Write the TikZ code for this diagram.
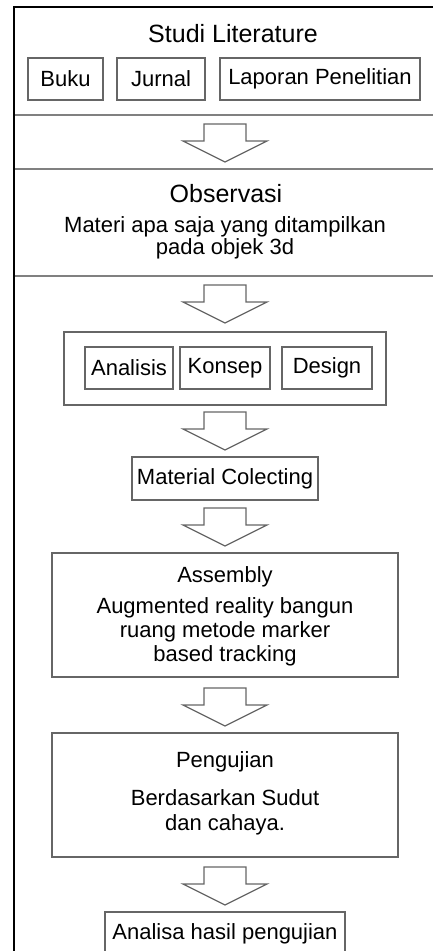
\documentclass[tikz,border=0pt]{standalone}
\usepackage{fontspec}
\setmainfont{Liberation Sans}
\usepackage{tikz}

\definecolor{boxgray}{gray}{0.4}
\definecolor{linegray}{gray}{0.5}

\tikzset{
 box/.style={draw=boxgray, line width=1.2pt, inner sep=0pt},
 txt/.style={font=\fontsize{22}{#1}\selectfont},
 txt/.default=24,
 bigtxt/.style={font=\fontsize{25}{28}\selectfont},
 flow/.style={draw=boxgray, line width=1.2pt, fill=white}
}

\newcommand{\flowarrow}[1]{%
 \draw[flow] (204,#1) -- (204,#1+17) -- (183,#1+17) -- (225,#1+38)
  -- (267,#1+17) -- (246,#1+17) -- (246,#1) -- cycle;}

\begin{document}
\begin{tikzpicture}[x=1pt,y=-1pt]
 \useasboundingbox (0,0) rectangle (433,951);
 \draw[line width=2.5pt] (14,960) -- (14,7) -- (440,7);
 \draw[linegray, line width=1.2pt] (15,115) -- (433,115);
 \draw[linegray, line width=1.2pt] (15,169) -- (433,169);
 \draw[linegray, line width=1.2pt] (15,276) -- (433,276);
 % studi literature
 \node[bigtxt, anchor=base] (studi) at (233,42) {Studi Literature};
 \node[box, txt, minimum width=75pt, minimum height=42pt] (buku) at (65.5,79) {Buku};
 \node[box, txt, minimum width=88pt, minimum height=42pt] (jurnal) at (161,79) {Jurnal};
 \node[box, txt, minimum width=200pt, minimum height=42pt] (laporan) at (320,79) {Laporan Penelitian};
 \flowarrow{124}
 % observasi
 \node[bigtxt, anchor=base] (observasi) at (226,202) {Observasi};
 \node[txt=22, align=center, anchor=base] (materi) at (225,254) {Materi apa saja yang ditampilkan\\pada objek 3d};
 \flowarrow{285}
 % analisis konsep design
 \node[box, minimum width=322pt, minimum height=73pt] (adk) at (225,368.5) {};
 \node[box, txt, minimum width=88pt, minimum height=42pt] (analisis) at (129,368) {Analisis};
 \node[box, txt, minimum width=90pt, minimum height=42pt] (konsep) at (225,368) {Konsep};
 \node[box, txt, minimum width=90pt, minimum height=42pt] (design) at (327,368) {Design};
 \flowarrow{412}
 \node[box, txt, minimum width=186pt, minimum height=43pt] (material) at (225,478.5) {Material Colecting};
 \flowarrow{508}
 % assembly
 \node[box, minimum width=346pt, minimum height=124pt] (assembly) at (225,615) {};
 \node[txt, anchor=base] (asmtitle) at (225,582) {Assembly};
 \node[txt=24, align=center, anchor=base] (asmtext) at (225,661) {Augmented reality bangun\\ruang metode marker\\based tracking};
 \flowarrow{688}
 % pengujian
 \node[box, minimum width=346pt, minimum height=124pt] (pengujian) at (225,795) {};
 \node[txt, anchor=base] (ujititle) at (225,767) {Pengujian};
 \node[txt=25, align=center, anchor=base] (ujitext) at (225,830) {Berdasarkan Sudut\\dan cahaya.};
 \flowarrow{867}
 \node[box, txt, minimum width=240pt, minimum height=43pt] (analisa) at (225,933.5) {Analisa hasil pengujian};
\end{tikzpicture}
\end{document}
